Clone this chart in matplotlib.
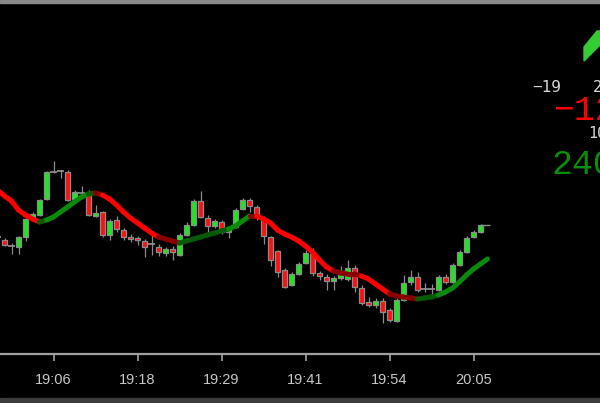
import numpy as np
import matplotlib
matplotlib.use('Agg')
import matplotlib.pyplot as plt
from matplotlib.collections import LineCollection
from matplotlib.patches import Polygon, Rectangle

# --- Datos de velas (unidades de precio arbitrarias) ---
opens = [123, 120, 114, 113, 123, 141, 145, 161, 188, 189,
         188, 161, 167, 167, 144, 148, 125, 140, 130, 123,
         122, 119, 117, 113, 107, 111, 105, 125, 135, 159,
         142, 134, 138, 128, 133, 151, 160, 153, 142, 123,
         109, 90, 75, 86, 97, 106, 87, 83, 79, 82,
         81, 92, 72, 58, 55, 59, 50, 39, 60, 78,
         83, 71, 71, 70, 83, 78, 95, 108, 123, 128]
highs = [138, 122, 117, 124, 142, 148, 161, 189, 199, 190,
         190, 170, 174, 170, 155, 149, 141, 144, 132, 126,
         124, 121, 125, 116, 113, 114, 127, 138, 161, 169,
         145, 141, 140, 134, 152, 162, 162, 155, 144, 124,
         110, 92, 88, 98, 110, 112, 89, 86, 84, 94,
         100, 95, 75, 63, 62, 62, 52, 62, 85, 90,
         88, 77, 76, 85, 86, 97, 110, 124, 130, 136]
lows = [114, 114, 106, 106, 119, 139, 144, 160, 187, 182,
        159, 160, 163, 144, 143, 123, 120, 128, 120, 118,
        115, 103, 105, 104, 104, 100, 104, 124, 134, 142,
        127, 132, 126, 122, 132, 150, 148, 140, 116, 94,
        83, 72, 74, 85, 96, 84, 80, 70, 70, 80,
        79, 68, 55, 53, 52, 37, 38, 38, 59, 75,
        68, 68, 63, 69, 76, 77, 94, 107, 122, 127]
closes = [123, 115, 114, 123, 141, 146, 160, 188, 189, 189,
          160, 168, 168, 145, 147, 125, 139, 131, 123, 121,
          120, 113, 116, 108, 111, 108, 125, 135, 159, 143,
          134, 139, 128, 133, 150, 160, 154, 143, 124, 100,
          88, 73, 86, 96, 107, 87, 84, 79, 82, 89,
          92, 73, 57, 55, 59, 48, 40, 60, 77, 83,
          70, 72, 71, 83, 78, 95, 108, 122, 128, 135]

# Media móvil (un punto por vela, con uno extra al final)
ma_values = [170, 164, 159, 150, 145, 141, 138, 140, 143, 148,
             153, 158, 163, 166, 167, 165, 161, 155, 148, 142,
             137, 132, 127, 123, 121, 119, 117, 119, 121, 123,
             125, 127, 129, 131, 134, 139, 144, 144, 141, 137,
             130, 126, 123, 119, 114, 108, 100, 93, 89, 87,
             86, 86, 84, 81, 76, 71, 66, 64, 63, 62,
             61, 62, 63, 65, 68, 72, 78, 85, 91, 96, 101]

tick_idx = [7, 19, 31, 43, 55, 67]
tick_labels = ['19:06', '19:18', '19:29', '19:41', '19:54', '20:05']

# --- Colores ---
BG = '#000000'
EDGE = '#8c8c8c'
UP = '#1ee61e'
DOWN = '#ff1010'

W, H = 600, 403
fig = plt.figure(figsize=(6.0, 4.03), dpi=100, facecolor=BG)
ax = fig.add_axes([0, (H - 354) / H, 1, 350 / H], facecolor=BG)

x = np.arange(-1, len(opens) - 1)
o, h, l, c = map(np.array, (opens, highs, lows, closes))

# Mechas
ax.vlines(x, l, h, color=EDGE, lw=0.9, zorder=2)

# Cuerpos
body_w = 0.78
for xi, oi, ci in zip(x, o, c):
    if abs(ci - oi) <= 1:
        ax.hlines((oi + ci) / 2, xi - body_w / 2 - 0.07, xi + body_w / 2 + 0.07,
                  color=EDGE, lw=1.3, zorder=3)
        continue
    col = UP if ci > oi else DOWN
    ax.bar(xi, abs(ci - oi), bottom=min(oi, ci), width=body_w, color=col,
           edgecolor=EDGE, linewidth=0.9, zorder=3)

# Línea de precio actual
ax.hlines(c[-1], x[-1], x[-1] + 1.3, color=EDGE, lw=1.0, zorder=2)

# Media móvil coloreada según pendiente
mx = np.arange(-1, len(ma_values) - 1)
ma = np.array(ma_values, dtype=float)
pts = np.column_stack([mx, ma]).reshape(-1, 1, 2)
segs = np.concatenate([pts[:-1], pts[1:]], axis=1)
cols = []
for d in np.diff(ma):
    if d > 2:
        cols.append('#0a8a0a')
    elif d > 0:
        cols.append('#065c06')
    elif d < -2:
        cols.append('#ff0000')
    else:
        cols.append('#8a0000')
lc = LineCollection(segs, colors=cols, linewidths=3.6, capstyle='round', zorder=4)
ax.add_collection(lc)

ax.set_xlim(-4.5 / 7, (W - 4.5) / 7)
ax.set_ylim(6, 356)

for s in ('top', 'left', 'right'):
    ax.spines[s].set_visible(False)
ax.spines['bottom'].set_color('#a0a0a0')
ax.spines['bottom'].set_linewidth(1.6)
ax.set_yticks([])
ax.set_xticks(tick_idx)
ax.set_xticklabels(tick_labels, family='Liberation Sans', fontsize=10.5, color='#c8c8c8')
ax.tick_params(axis='x', colors='#a0a0a0', length=5, width=1.2, pad=9, labelcolor='#c8c8c8')

# Bordes de la ventana
fig.add_artist(Rectangle((0, 1 - 3 / H), 1, 3 / H, transform=fig.transFigure,
                         color='#8a8a8a', zorder=5))
fig.add_artist(Rectangle((0, 0), 1, 5 / H, transform=fig.transFigure,
                         color='#3c3c3c', zorder=5))

# Flecha verde (recortada en el borde)
arrow = [(584, 47), (597, 31), (600, 31), (600, 45), (584, 61)]
fig.add_artist(Polygon([(px / W, 1 - py / H) for px, py in arrow], closed=True,
                       transform=fig.transFigure, color='#33cc33', zorder=5))

# Textos del panel derecho (recortados por el borde)
mono = 'DejaVu Sans Mono'
big = ['Liberation Mono', 'DejaVu Sans Mono']
fig.text(532 / W, 1 - 87 / H, '\u221219', family=mono, fontsize=11.5, color='#d8d8d8', va='center')
fig.text(593 / W, 1 - 87 / H, '2', family=mono, fontsize=11.5, color='#d8d8d8', va='center')
fig.text(553 / W, 1 - 111 / H, '\u221212', family=big, fontsize=25, color='#ff0000', va='center')
fig.text(588 / W, 1 - 134 / H, '10', family=mono, fontsize=11, color='#d8d8d8', va='center')
fig.text(552 / W, 1 - 164 / H, '240', family=big, fontsize=25, color='#078f07', va='center')

fig.savefig('out.png', dpi=100, facecolor=BG)
